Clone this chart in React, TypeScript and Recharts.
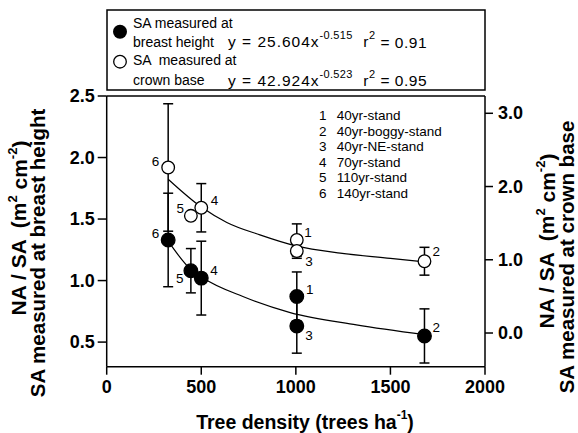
import React from 'react';
import { ComposedChart, Scatter, Line, XAxis, YAxis, ErrorBar, ReferenceLine } from 'recharts';

// ---- data ----
const stands = [1, 2, 3, 4, 5, 6];
const standNames = ['40yr-stand', '40yr-boggy-stand', '40yr-NE-stand', '70yr-stand', '110yr-stand', '140yr-stand'];
const treeDensity = [1005, 1680, 1005, 500, 445, 325];
// NA/SA, SA measured at breast height (left axis)
const breastMean = [0.87, 0.55, 0.63, 1.02, 1.08, 1.33];
const breastErr = [0.2, 0.22, 0.22, 0.3, 0.18, 0.38];
// NA/SA, SA measured at crown base (right axis)
const crownMean = [1.27, 0.98, 1.12, 1.71, 1.6, 2.26];
const crownErr = [0.22, 0.19, 0.1, 0.33, null, 0.87];

// fitted curves
const breastFitX = [325, 445, 500, 720, 970, 1320, 1680];
const breastFitY = [1.32, 1.09, 1.03, 0.87, 0.74, 0.64, 0.56];
const crownFitX = [325, 500, 635, 810, 1000, 1235, 1500, 1680];
const crownFitY = [2.1, 1.72, 1.51, 1.34, 1.19, 1.09, 1.02, 0.97];

const xTicks = [0, 500, 1000, 1500, 2000];
const leftTicks = [0.5, 1.0, 1.5, 2.0, 2.5];
const rightTicks = [0, 1, 2, 3];

// ---- derived tables ----
const breastData = stands.map((s, i) => ({ stand: s, x: treeDensity[i], y: breastMean[i], err: breastErr[i] }));
const crownData = stands.map((s, i) => ({ stand: s, x: treeDensity[i], y: crownMean[i], err: crownErr[i] ?? undefined }));
const breastFit = breastFitX.map((x, i) => ({ x, y: breastFitY[i] }));
const crownFit = crownFitX.map((x, i) => ({ x, y: crownFitY[i] }));

const FONT = '"Liberation Sans", Arial, Helvetica, sans-serif';

// label offsets (style)
const breastLabelOffset: Record<number, [number, number]> = {
  1: [13, -6.7], 2: [11.7, -8.3], 3: [12.3, 9], 4: [12.7, -7.3], 5: [-11, 7.3], 6: [-12.6, -6.4],
};
const crownLabelOffset: Record<number, [number, number]> = {
  1: [11.3, -7.3], 2: [11.7, -10], 3: [12.3, 10.7], 4: [13.3, -7.7], 5: [-10.7, -7.7], 6: [-12.6, -5.6],
};

const emptyShape = () => <g />;

const makeShape = (filled: boolean, offsets: Record<number, [number, number]>) => (props: any) => {
  const { cx, cy, payload } = props;
  if (cx == null || cy == null) return <g />;
  const [dx, dy] = offsets[payload.stand] || [10, -8];
  return (
    <g>
      <circle cx={cx} cy={cy} r={filled ? 6.8 : 6.3} fill={filled ? '#000' : '#fff'} stroke="#000" strokeWidth={1.3} />
      <text x={cx + dx} y={cy + dy} fontSize={13.5} fontFamily={FONT} textAnchor="middle" dominantBaseline="central" fill="#000">
        {payload.stand}
      </text>
    </g>
  );
};

const XTick = (props: any) => {
  const { x, y, payload } = props;
  return (
    <text x={x} y={y + 10} fontSize={18} fontWeight="bold" fontFamily={FONT} textAnchor="middle" dominantBaseline="central" fill="#000">
      {payload.value}
    </text>
  );
};
const LeftTick = (props: any) => {
  const { x, y, payload } = props;
  return (
    <text x={x} y={y} fontSize={18} fontWeight="bold" fontFamily={FONT} textAnchor="end" dominantBaseline="central" fill="#000">
      {Number(payload.value).toFixed(1)}
    </text>
  );
};
const RightTick = (props: any) => {
  const { x, y, payload } = props;
  return (
    <text x={x} y={y} fontSize={18} fontWeight="bold" fontFamily={FONT} textAnchor="start" dominantBaseline="central" fill="#000">
      {Number(payload.value).toFixed(1)}
    </text>
  );
};

const Equation = ({ y, coef, expo, r2 }: { y: number; coef: string; expo: string; r2: string }) => (
  <g>
    <text x={228} y={y} fontSize={15.5} dominantBaseline="central" letterSpacing={1}>
      y = {coef}x<tspan dy={-6.5} fontSize={11} letterSpacing={0.3}>{expo}</tspan>
    </text>
    <text x={427} y={y} fontSize={15.5} textAnchor="end" dominantBaseline="central" letterSpacing={0.5}>
      r<tspan dy={-6.5} fontSize={11}>2</tspan>
      <tspan dy={6.5}> = {r2}</tspan>
    </text>
  </g>
);

const Overlay = () => (
  <svg width={578} height={433} style={{ position: 'absolute', left: 0, top: 0, pointerEvents: 'none' }} fontFamily={FONT}>
    {/* legend box */}
    <rect x={107} y={10} width={378} height={80} fill="none" stroke="#000" strokeWidth={1.5} />
    <circle cx={120} cy={31.7} r={7} fill="#000" />
    <text x={133} y={23} fontSize={14} dominantBaseline="central">SA measured at</text>
    <text x={133} y={41.7} fontSize={14} dominantBaseline="central">breast height</text>
    <Equation y={41.7} coef="25.604" expo="-0.515" r2="0.91" />
    <circle cx={120} cy={61.7} r={6.3} fill="#fff" stroke="#000" strokeWidth={1.3} />
    <text x={133} y={60} fontSize={14} dominantBaseline="central" style={{ whiteSpace: 'pre' }}>SA  measured at</text>
    <text x={133} y={80} fontSize={14} dominantBaseline="central">crown base</text>
    <Equation y={80} coef="42.924" expo="-0.523" r2="0.95" />

    {/* stand list */}
    {stands.map((s, i) => (
      <g key={s}>
        <text x={322.7} y={115.7 + i * 15.5} fontSize={13.5} textAnchor="middle" dominantBaseline="central">{s}</text>
        <text x={336.7} y={115.7 + i * 15.5} fontSize={13.5} dominantBaseline="central">{standNames[i]}</text>
      </g>
    ))}

    {/* left axis title */}
    <g transform="translate(18.5,228) rotate(-90)">
      <text x={0} y={0} fontSize={21} fontWeight="bold" textAnchor="middle" dominantBaseline="central" style={{ whiteSpace: 'pre' }}>
        NA / SA  (m<tspan dy={-7} fontSize={13}>2</tspan><tspan dy={7}> cm</tspan><tspan dy={-7} fontSize={13}>-2</tspan><tspan dy={7}>)</tspan>
      </text>
    </g>
    <g transform="translate(37,253) rotate(-90)">
      <text x={0} y={0} fontSize={20.5} fontWeight="bold" textAnchor="middle" dominantBaseline="central">
        SA measured at breast height
      </text>
    </g>
    {/* right axis title */}
    <g transform="translate(546.5,241) rotate(-90)">
      <text x={0} y={0} fontSize={21} fontWeight="bold" textAnchor="middle" dominantBaseline="central" style={{ whiteSpace: 'pre' }}>
        NA / SA  (m<tspan dy={-7} fontSize={13}>2</tspan><tspan dy={7}> cm</tspan><tspan dy={-7} fontSize={13}>-2</tspan><tspan dy={7}>)</tspan>
      </text>
    </g>
    <g transform="translate(566.5,257) rotate(-90)">
      <text x={0} y={0} fontSize={20.5} fontWeight="bold" textAnchor="middle" dominantBaseline="central">
        SA measured at crown base
      </text>
    </g>
    {/* x axis title */}
    <text x={305} y={421.7} fontSize={19.5} fontWeight="bold" textAnchor="middle" dominantBaseline="central">
      Tree density (trees ha<tspan dy={-7} fontSize={12}>-1</tspan><tspan dy={7}>)</tspan>
    </text>
  </svg>
);

export default function App() {
  const axisStyle = { stroke: '#000', strokeWidth: 1.5 };
  return (
    <div style={{ position: 'absolute', left: 0, top: 0, width: 578, height: 433, background: '#fff' }}>
      <ComposedChart width={578} height={433} margin={{ top: 96, right: 33, bottom: 26.3, left: 46.7 }}>
        <XAxis
          dataKey="x"
          type="number"
          domain={[0, 2000]}
          ticks={xTicks}
          allowDataOverflow
          height={40}
          tickSize={8}
          axisLine={axisStyle}
          tickLine={axisStyle}
          tick={<XTick />}
        />
        <YAxis
          yAxisId="left"
          dataKey="y"
          type="number"
          domain={[0.3, 2.5]}
          ticks={leftTicks}
          allowDataOverflow
          width={60}
          tickSize={9}
          tickMargin={3}
          axisLine={axisStyle}
          tickLine={axisStyle}
          tick={<LeftTick />}
        />
        <YAxis
          yAxisId="right"
          orientation="right"
          dataKey="y"
          type="number"
          domain={[-0.46, 3.236]}
          ticks={rightTicks}
          allowDataOverflow
          width={60}
          tickSize={8}
          tickMargin={5}
          axisLine={axisStyle}
          tickLine={axisStyle}
          tick={<RightTick />}
        />
        <ReferenceLine yAxisId="left" y={2.5} stroke="#000" strokeWidth={1.5} />
        <Line data={breastFit} yAxisId="left" dataKey="y" type="monotone" dot={false} stroke="#000" strokeWidth={1.2} isAnimationActive={false} />
        <Line data={crownFit} yAxisId="right" dataKey="y" type="monotone" dot={false} stroke="#000" strokeWidth={1.2} isAnimationActive={false} />
        {/* error bars first, so the symbols sit on top */}
        <Scatter data={breastData} yAxisId="left" dataKey="y" shape={emptyShape} isAnimationActive={false}>
          <ErrorBar dataKey="err" direction="y" width={5} stroke="#000" strokeWidth={1.5} />
        </Scatter>
        <Scatter data={crownData} yAxisId="right" dataKey="y" shape={emptyShape} isAnimationActive={false}>
          <ErrorBar dataKey="err" direction="y" width={5} stroke="#000" strokeWidth={1.5} />
        </Scatter>
        <Scatter data={breastData} yAxisId="left" dataKey="y" shape={makeShape(true, breastLabelOffset)} isAnimationActive={false} />
        <Scatter data={crownData} yAxisId="right" dataKey="y" shape={makeShape(false, crownLabelOffset)} isAnimationActive={false} />
      </ComposedChart>
      <Overlay />
    </div>
  );
}
